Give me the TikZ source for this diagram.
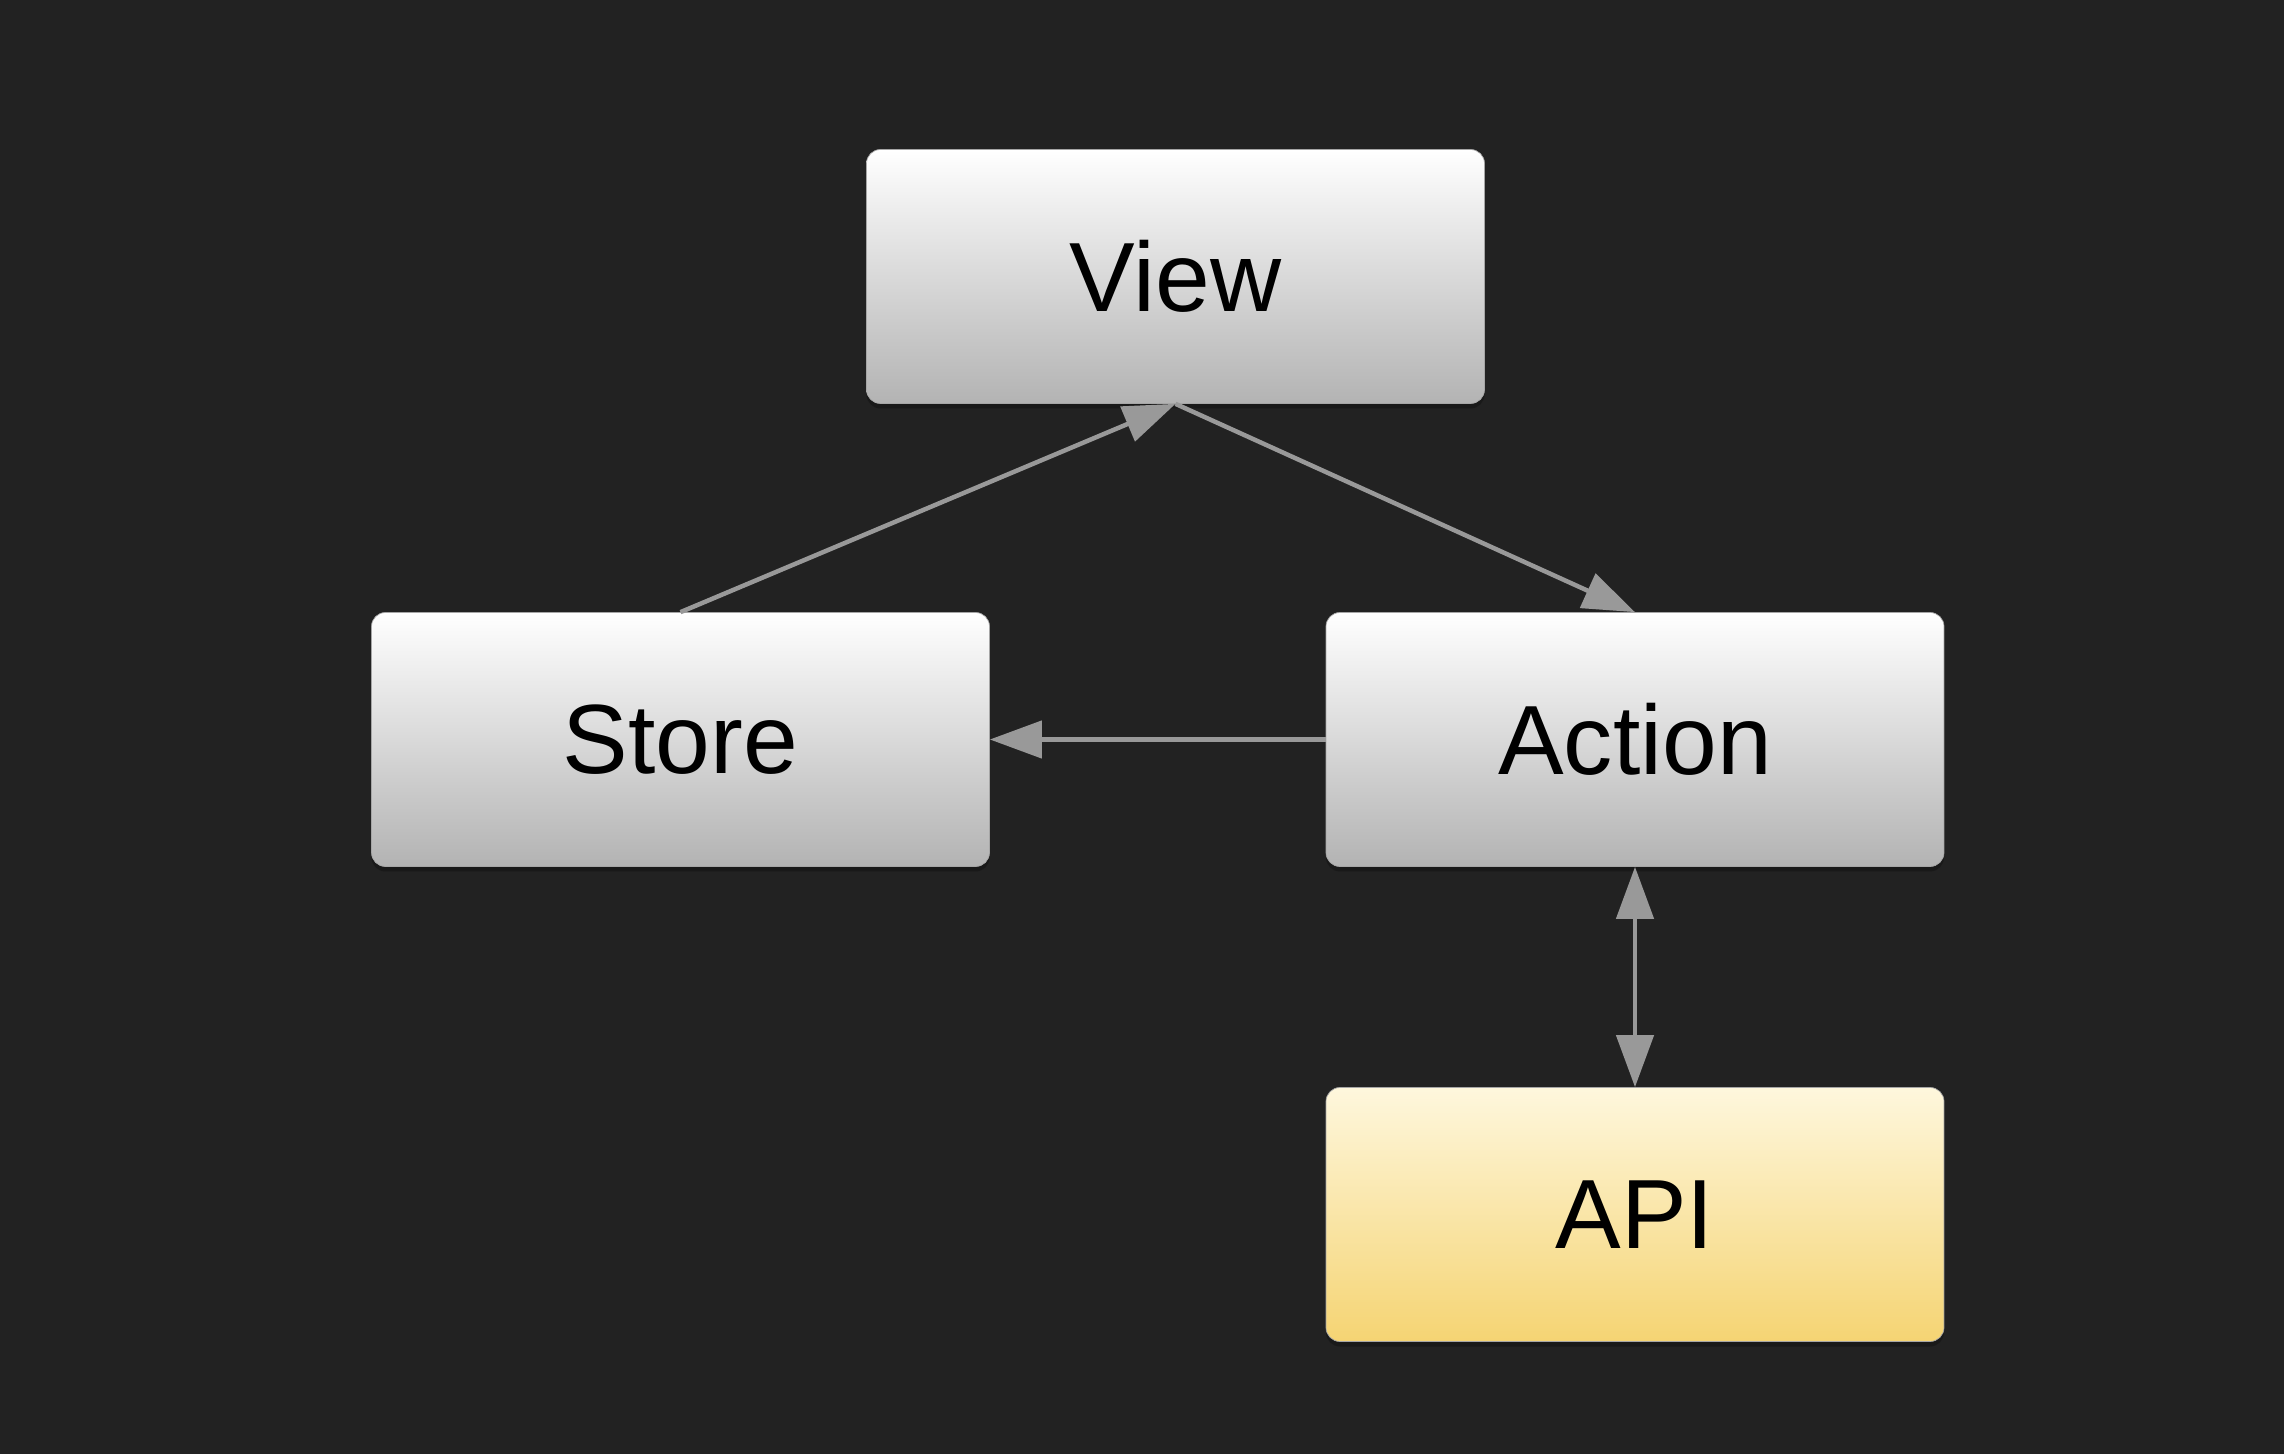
\documentclass[tikz,border=0pt]{standalone}
\usepackage{fontspec}
\setmainfont{Liberation Sans}
\usepackage{tikz}
\usetikzlibrary{arrows.meta,shadows}

\definecolor{bgdark}{HTML}{222222}
\definecolor{boxtop}{HTML}{FFFFFF}
\definecolor{boxbottom}{HTML}{B3B3B3}
\definecolor{apitop}{HTML}{FEF7DD}
\definecolor{apibottom}{HTML}{F5D473}
\definecolor{linkgray}{HTML}{999999}

\tikzset{
    flowbox/.style={rectangle, rounded corners=0.28cm, minimum width=12.36cm,
        minimum height=5.08cm, inner sep=0pt, top color=boxtop, bottom color=boxbottom,
        draw=black!35, line width=0.4pt,
        drop shadow={shadow xshift=0pt, shadow yshift=-0.1cm, opacity=0.25, fill=black},
        font={\fontsize{56}{67}\selectfont}, text=black},
    apibox/.style={flowbox, top color=apitop, bottom color=apibottom},
    link/.style={draw=linkgray, line width=0.09cm,
        -{Triangle[length=1.04cm, width=0.74cm]}},
    twoway/.style={link,
        {Triangle[length=1.04cm, width=0.74cm]}-{Triangle[length=1.04cm, width=0.74cm]}}
}

\begin{document}
\begin{tikzpicture}
        \fill[bgdark] (0, 0) rectangle (45.68, -29.08);
        \useasboundingbox (0, 0) rectangle (45.68, -29.08);
        \node[flowbox] (view) at (23.51, -5.53) {View};
        \node[flowbox] (store) at (13.61, -14.79) {Store};
        \node[flowbox] (action) at (32.70, -14.79) {Action};
        \node[apibox] (api) at (32.70, -24.29) {API};
        \draw[link] (store.north) -- (view.south);
        \draw[link] (view.south) -- (action.north);
        \draw[link] (action.west) -- (store.east);
        \draw[twoway] (action.south) -- (api.north);
    \end{tikzpicture}
\end{document}
